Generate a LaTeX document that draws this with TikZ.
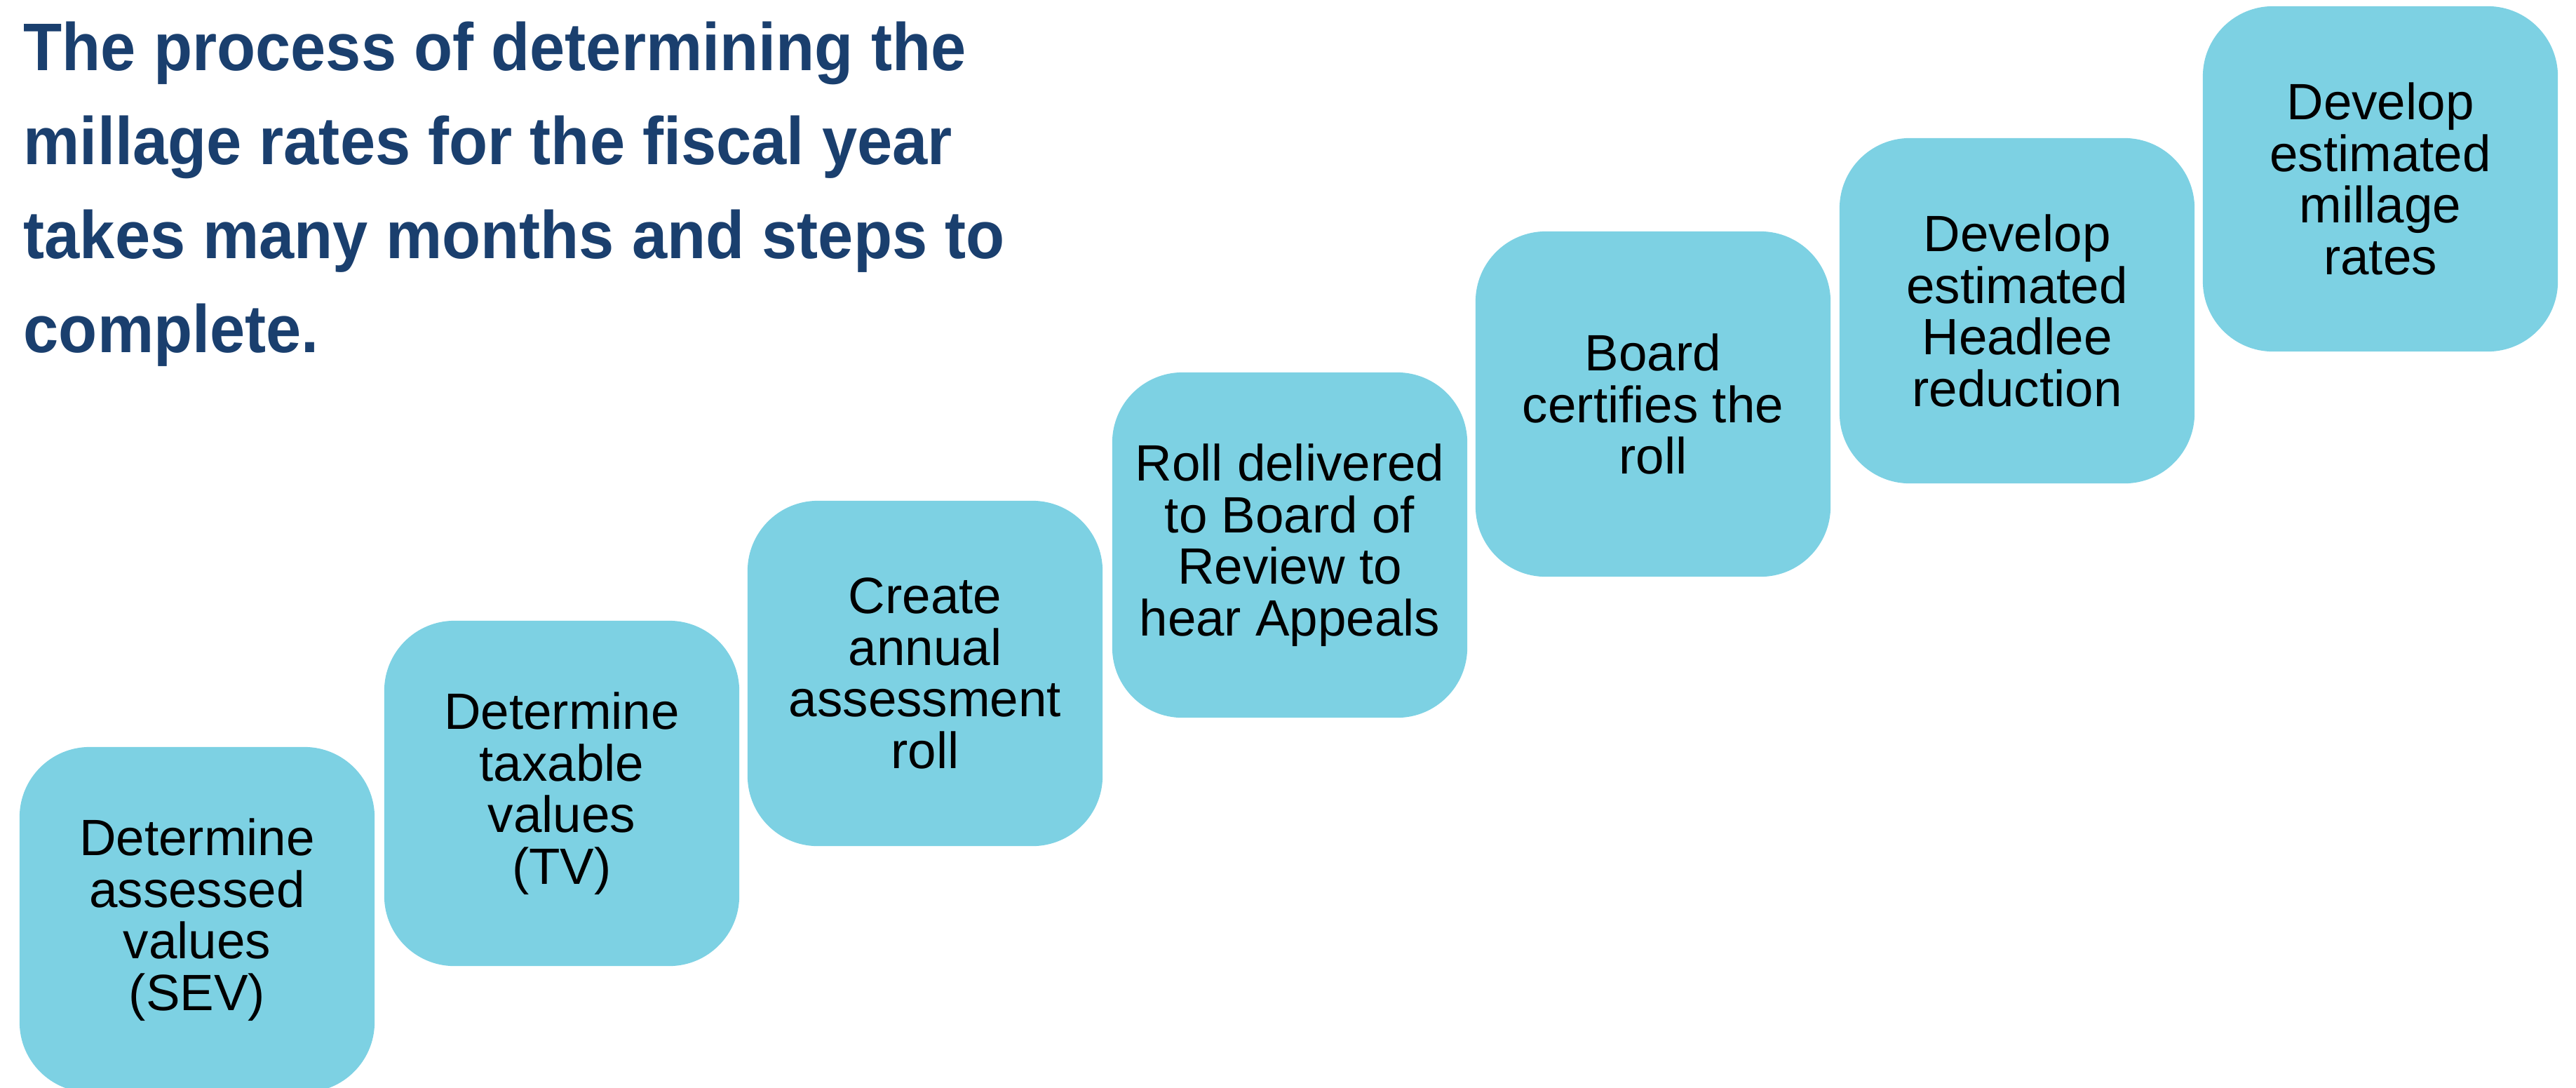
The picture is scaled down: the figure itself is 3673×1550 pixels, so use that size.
\documentclass[tikz,border=0pt]{standalone}
\usepackage{fontspec}
\setmainfont{Liberation Sans}
\newfontfamily\headfont[FakeStretch=0.94]{Liberation Sans}
\definecolor{stepfill}{HTML}{7DD1E3}
\definecolor{headblue}{HTML}{1A3F6E}
\begin{document}
\begin{tikzpicture}[x=0.01cm, y=-0.01cm,
  stepbox/.style={fill=stepfill, draw=none, rounded corners=1cm,
    minimum width=5.06cm, minimum height=4.92cm, inner sep=0pt,
    align=center, text=black, font=\fontsize{20.7}{20.9}\selectfont},
  headline/.style={anchor=north west, inner sep=0pt, align=left,
    text=headblue, font=\headfont\bfseries\fontsize{27.3}{38.1}\selectfont}]
\useasboundingbox (0,0) rectangle (3673,1550);

% heading
\node[headline] (title) at (33,30)
  {The process of determining the\\
   millage rates for the fiscal year\\
   takes many months and steps to\\
   complete.};

% staircase of steps
\node[stepbox] (s1) at (281,1311) {Determine\\assessed\\values\\(SEV)};
\node[stepbox] (s2) at (801,1131) {Determine\\taxable\\values\\(TV)};
\node[stepbox] (s3) at (1319,960) {Create\\annual\\assessment\\roll};
\node[stepbox] (s4) at (1839,777) {Roll delivered\\to Board of\\Review to\\hear Appeals};
\node[stepbox] (s5) at (2357,576) {Board\\certifies the\\roll};
\node[stepbox] (s6) at (2876,443) {Develop\\estimated\\Headlee\\reduction};
\node[stepbox] (s7) at (3394,255) {Develop\\estimated\\millage\\rates};
\end{tikzpicture}
\end{document}
